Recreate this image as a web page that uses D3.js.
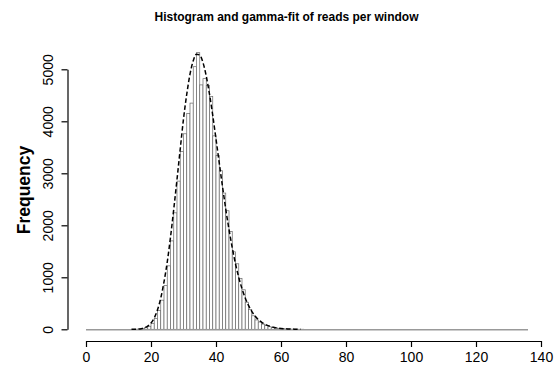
<!DOCTYPE html>
<html>
<head>
<meta charset="utf-8">
<script src="https://cdnjs.cloudflare.com/ajax/libs/d3/7.8.5/d3.min.js"></script>
<style>
  body { margin: 0; background: #fff; }
  text { font-family: "Liberation Sans", Arial, sans-serif; fill: #000; }
</style>
</head>
<body>
<script>
// histogram: one bin per read count, first non-empty bin starts at 15
var binCount = 136;
var firstBin = 15;
var counts = [2, 5, 14, 30, 58, 115, 205, 360, 560, 840,
              1220, 1700, 2240, 2850, 3420, 3760, 4150, 4350, 5050, 5320,
              4700, 4820, 4690, 4480, 3720, 3340, 3050, 2620, 2280, 1880,
              1490, 1260, 980, 760, 520, 380, 260, 180, 140, 100,
              70, 50, 36, 26, 18, 12, 8, 5, 3, 2, 1, 1];

// gamma fit
var fitX = [14, 15, 16, 17, 18, 19, 20, 21, 22, 23, 24, 25, 26, 27, 28, 29, 30,
            31, 32, 33, 34, 35, 36, 37, 38, 39, 40, 41, 42, 43, 44, 45, 46,
            47, 48, 49, 50, 51, 52, 53, 54, 55, 56, 57, 58, 59, 60, 61, 62,
            63, 64, 65, 66];
var fitY = [0.5, 1.5, 4.5, 12, 28, 61, 120, 218, 375, 599, 912, 1294, 1771, 2311, 2880, 3470, 4046,
            4520, 4907, 5166, 5290, 5274, 5129, 4870, 4521, 4112, 3660, 3199, 2745, 2313, 1920, 1568, 1260,
            998, 781, 602, 459, 345, 256, 188, 137, 98, 70, 49, 34, 24, 16, 11, 7.5,
            5, 3, 2, 1];

var xTicks = [0, 20, 40, 60, 80, 100, 120, 140];
var yTicks = [0, 1000, 2000, 3000, 4000, 5000];

var width = 560,
    height = 367;

var svg = d3.select("body")
    .append("svg")
    .attr("width", width)
    .attr("height", height);

var xScale = d3.scaleLinear()
    .domain([0, 140])
    .range([86, 541]);
var yScale = d3.scaleLinear()
    .domain([0, 5000])
    .range([329.3, 69.3]);

// title
svg.append("text")
    .attr("x", 286.5)
    .attr("y", 20.5)
    .attr("text-anchor", "middle")
    .style("font-size", "12px")
    .style("font-weight", "bold")
    .text("Histogram and gamma-fit of reads per window");

// bars
var bins = d3.range(0, binCount).map(function(k) {
    var i = k - firstBin;
    return { x0: k, x1: k + 1, n: (i >= 0 && i < counts.length) ? counts[i] : 0 };
});

svg.append("g")
    .selectAll("rect")
    .data(bins.filter(function(d) { return d.n > 0; }))
    .enter()
    .append("rect")
        .attr("x", function(d) { return xScale(d.x0); })
        .attr("width", function(d) { return xScale(d.x1) - xScale(d.x0); })
        .attr("y", function(d) { return yScale(d.n); })
        .attr("height", function(d) { return yScale(0) - yScale(d.n); })
        .attr("fill", "#fff")
        .attr("stroke", "#666")
        .attr("stroke-width", 0.7);

// base line of the empty bins
svg.append("line")
    .attr("x1", xScale(0))
    .attr("x2", xScale(binCount))
    .attr("y1", yScale(0) + 0.5)
    .attr("y2", yScale(0) + 0.5)
    .attr("stroke", "#999")
    .attr("stroke-width", 1.5);

// fitted curve
var line = d3.line()
    .x(function(d) { return xScale(d[0]); })
    .y(function(d) { return yScale(d[1]); })
    .curve(d3.curveMonotoneX);

svg.append("path")
    .datum(d3.zip(fitX, fitY))
    .attr("d", line)
    .attr("fill", "none")
    .attr("stroke", "#000")
    .attr("stroke-width", 1.5)
    .attr("stroke-dasharray", "4.5,2.5");

// x axis
var xAxis = d3.axisBottom(xScale)
    .tickValues(xTicks)
    .tickSize(6)
    .tickSizeOuter(0)
    .tickPadding(5);
var gx = svg.append("g")
    .attr("transform", "translate(0,341)")
    .call(xAxis);
gx.selectAll("text")
    .style("font-size", "14px")
    .style("font-family", "Liberation Sans, Arial, sans-serif");
gx.selectAll("path, line").attr("stroke", "#000").attr("stroke-width", 1.2);

// y axis, labels turned like R does
var yAxis = d3.axisLeft(yScale)
    .tickValues(yTicks)
    .tickSize(6)
    .tickSizeOuter(0)
    .tickFormat(d3.format("d"));
var gy = svg.append("g")
    .attr("transform", "translate(67.5,0)")
    .call(yAxis);
gy.selectAll("path, line").attr("stroke", "#000").attr("stroke-width", 1.2);
gy.selectAll("text")
    .attr("x", null)
    .attr("dy", null)
    .attr("text-anchor", "middle")
    .attr("transform", "translate(-14.8,0) rotate(-90)")
    .style("font-size", "14px")
    .style("font-family", "Liberation Sans, Arial, sans-serif");

// y title
svg.append("text")
    .attr("transform", "translate(29.5,190) rotate(-90)")
    .attr("text-anchor", "middle")
    .style("font-size", "17.5px")
    .style("font-weight", "bold")
    .text("Frequency");
</script>
</body>
</html>
